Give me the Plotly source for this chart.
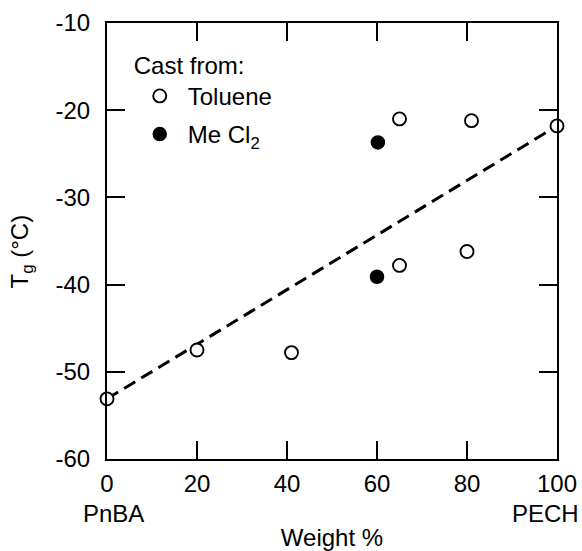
import plotly.graph_objects as go

# Data
toluene_x = [0, 20, 41, 65, 65, 81, 80, 100]
toluene_y = [-53.1, -47.5, -47.8, -21.0, -37.8, -21.2, -36.2, -21.8]
mecl2_x = [60.2, 60.0]
mecl2_y = [-23.7, -39.1]
fit_x = [0, 100]
fit_y = [-53.1, -21.8]

x_ticks = [0, 20, 40, 60, 80, 100]
x_ticktext = ["0", "20", "40", "60", "80", "100"]
y_ticks = [-60, -50, -40, -30, -20, -10]
y_ticktext = ["-60", "-50", "-40", "-30", "-20", "-10"]

FONT = "Liberation Sans, Arial, sans-serif"
FS = 24

fig = go.Figure()
fig.add_trace(go.Scatter(
    x=fit_x, y=fit_y, mode="lines",
    line=dict(color="black", width=3, dash="13px,7px"),
    showlegend=False, hoverinfo="skip"))
fig.add_trace(go.Scatter(
    x=toluene_x, y=toluene_y, mode="markers", name="Toluene",
    legendgroup="a",
    marker=dict(symbol="circle", size=13, color="white",
                line=dict(color="black", width=1.9)),
    cliponaxis=False))
fig.add_trace(go.Scatter(
    x=mecl2_x, y=mecl2_y, mode="markers", name="Me Cl<sub>2</sub>",
    legendgroup="b",
    marker=dict(symbol="circle", size=13, color="black",
                line=dict(color="black", width=1.5)),
    cliponaxis=False))

axis_common = dict(
    showline=True, linecolor="black", linewidth=2,
    mirror="ticks", ticks="inside", ticklen=18, tickwidth=1.5,
    tickcolor="black", showgrid=False, zeroline=False,
    tickfont=dict(family=FONT, size=FS, color="black"),
)

fig.update_xaxes(
    range=[0, 100], tickvals=x_ticks, ticktext=x_ticktext,
    title=dict(text="Weight %", font=dict(family=FONT, size=FS, color="black"),
               standoff=43),
    ticklabelstandoff=2,
    **axis_common)
fig.update_yaxes(
    range=[-60, -10], tickvals=y_ticks, ticktext=y_ticktext,
    ticklabelstandoff=10,
    **axis_common)

# y-axis title placed as a rotated annotation to match its position
fig.add_annotation(x=-0.19, y=0.475, xref="paper", yref="paper",
                   text="T<sub>g</sub> (°C)", textangle=-90,
                   showarrow=False, xanchor="center", yanchor="middle",
                   font=dict(family=FONT, size=FS, color="black"))

fig.add_annotation(x=0, y=0, xref="x", yref="paper", text="PnBA",
                   showarrow=False, xanchor="center", yanchor="middle",
                   xshift=6, yshift=-54,
                   font=dict(family=FONT, size=FS, color="black"))
fig.add_annotation(x=100, y=0, xref="x", yref="paper", text="PECH",
                   showarrow=False, xanchor="right", yanchor="middle",
                   xshift=24, yshift=-54,
                   font=dict(family=FONT, size=FS, color="black"))

fig.update_layout(
    width=582, height=551,
    margin=dict(l=107, r=25, t=23, b=92, autoexpand=False),
    paper_bgcolor="white", plot_bgcolor="white",
    font=dict(family=FONT, size=FS, color="black"),
    legend=dict(
        x=0.055, y=0.955, xanchor="left", yanchor="top",
        bgcolor="rgba(0,0,0,0)", borderwidth=0,
        title=dict(text="Cast from:", font=dict(family=FONT, size=FS, color="black")),
        font=dict(family=FONT, size=FS, color="black"),
        tracegroupgap=4, itemwidth=46,
    ),
)

fig.write_html("out.html")
